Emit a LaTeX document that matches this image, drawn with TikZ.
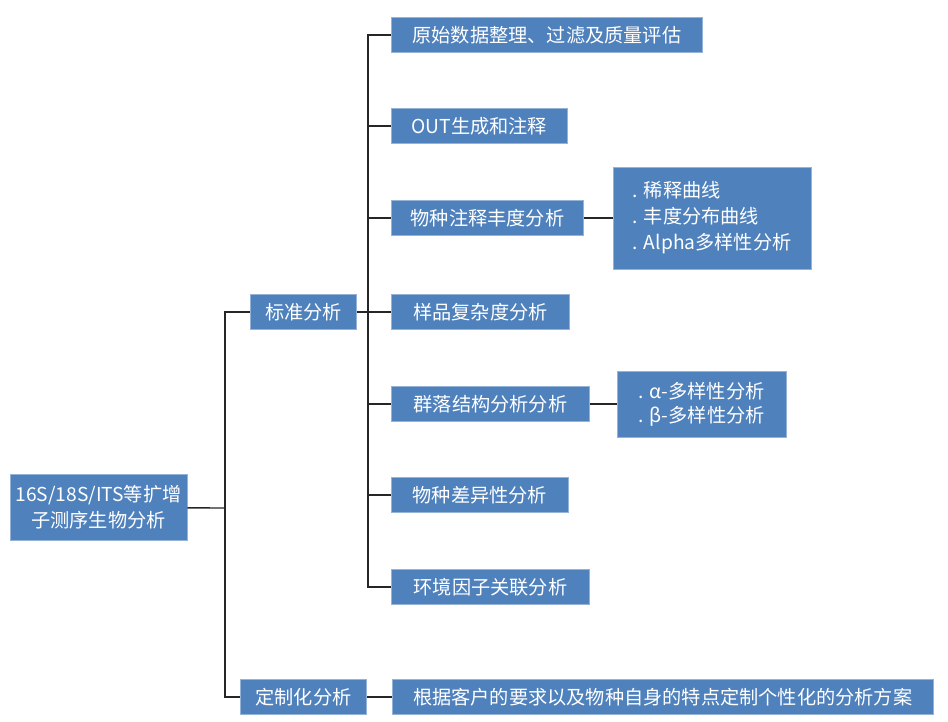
\documentclass[tikz,border=0pt]{standalone}
\usepackage{fontspec}
\setmainfont{Noto Sans CJK SC}
\usetikzlibrary{positioning}
\definecolor{mpblue}{RGB}{79,129,189}
\definecolor{mpline}{RGB}{38,38,38}
\tikzstyle{line} = [line width=1.4pt, color=mpline]
\tikzstyle{itembox} = [rectangle, minimum height=35pt, inner sep=0pt, text centered, draw=mpblue!60!white, line width=0.8pt, fill=mpblue, text=white]

\begin{document}
\begin{tikzpicture}[x=1pt, y=-1pt, font=\fontsize{19.2pt}{26pt}\selectfont]
\useasboundingbox (0,0) rectangle (948,721);
% Root and branches
\node[itembox, minimum width=177pt, minimum height=66pt, align=center] (root) at (98.5,507.5) {16S/18S/ITS等扩增\\子测序生物分析};
\node[itembox, minimum width=106pt, anchor=west] (std) at (250,312) {标准分析};
\node[itembox, minimum width=126pt, anchor=west] (custom) at (240,697) {定制化分析};
% Standard analysis items
\node[itembox, minimum width=311pt, anchor=west] (raw) at (391,35) {原始数据整理、过滤及质量评估};
\node[itembox, minimum width=176pt, anchor=west] (otu) at (391,126) {OUT生成和注释};
\node[itembox, minimum width=192pt, anchor=west] (abund) at (391,218) {物种注释丰度分析};
\node[itembox, minimum width=178pt, anchor=west] (cplx) at (391,312) {样品复杂度分析};
\node[itembox, minimum width=198pt, anchor=west] (comm) at (391,404) {群落结构分析分析};
\node[itembox, minimum width=177pt, anchor=west] (diff) at (391,495) {物种差异性分析};
\node[itembox, minimum width=198pt, anchor=west] (env) at (391,587) {环境因子关联分析};
% Details
\node[itembox, minimum width=198pt, minimum height=102pt, align=left, right=29pt of abund] (abunddet) {. 稀释曲线\\. 丰度分布曲线\\. Alpha多样性分析};
\node[itembox, minimum width=169pt, minimum height=66pt, align=left, right=27pt of comm, font=\fontsize{19.2pt}{24pt}\selectfont] (commdet) {. α-多样性分析\\. β-多样性分析};
\node[itembox, minimum width=541pt, right=25pt of custom] (plan) {根据客户的要求以及物种自身的特点定制个性化的分析方案};

\coordinate (trunkA) at (225,508);
\coordinate (trunkB) at (368,312);

\draw[line] (root) -- (trunkA);
\draw[line] (trunkA) |- (std);
\draw[line] (trunkA) |- (custom);
\draw[line] (std) -- (trunkB);
\draw[line] (trunkB) |- (raw);
\draw[line] (trunkB) |- (otu);
\draw[line] (trunkB) |- (abund);
\draw[line] (trunkB) -- (cplx);
\draw[line] (trunkB) |- (comm);
\draw[line] (trunkB) |- (diff);
\draw[line] (trunkB) |- (env);
\draw[line] (abund) -- (abunddet);
\draw[line] (comm) -- (commdet);
\draw[line] (custom) -- (plan);
\end{tikzpicture}
\end{document}
